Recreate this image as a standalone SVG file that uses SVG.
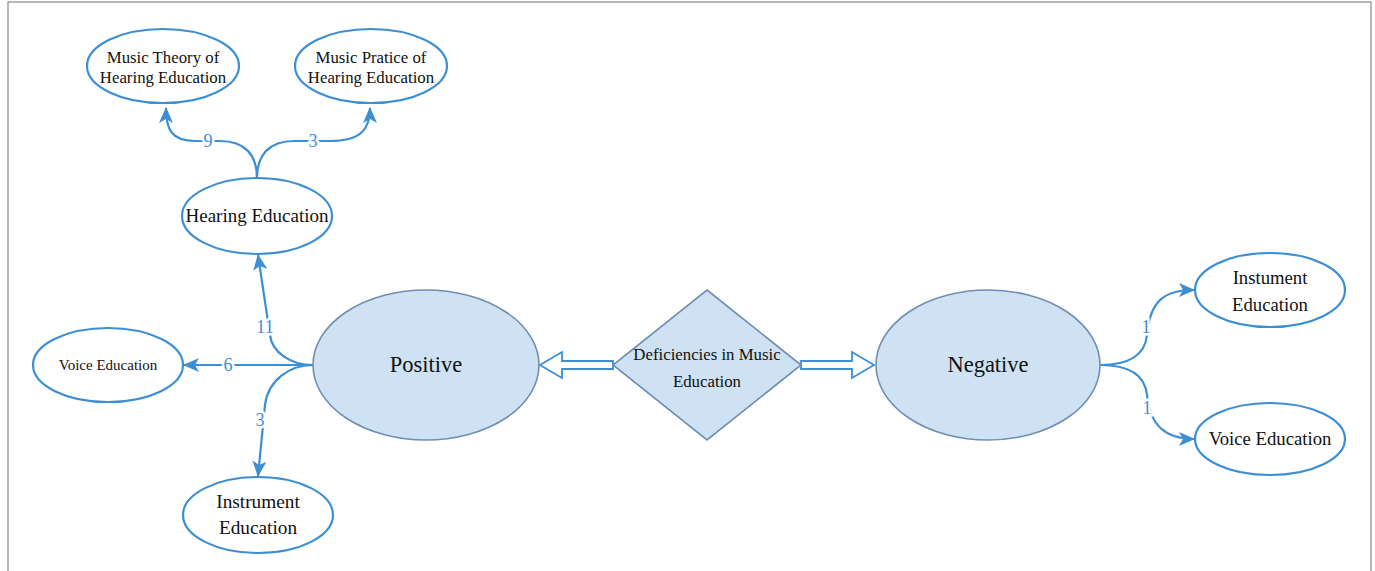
<svg xmlns="http://www.w3.org/2000/svg" width="1375" height="571" viewBox="0 0 1375 571">
<style>
.node{fill:#fff;stroke:#3d8fd4;stroke-width:2.2}
.main{fill:#cfe2f3;stroke:#6f8eb3;stroke-width:1.6}
.t{fill:#111;text-anchor:middle}
.edge{fill:none;stroke:#3d8fd4;stroke-width:2.2}
.lbl{font-size:18px;fill:#3d8fd4;text-anchor:middle;stroke:#fff;stroke-width:5;paint-order:stroke}
.hollow{fill:#fff;stroke:#3d8fd4;stroke-width:1.8;stroke-linejoin:miter}
</style>
<defs>
<marker id="ah" viewBox="0 0 16 14" refX="15" refY="7" markerWidth="16" markerHeight="14" markerUnits="userSpaceOnUse" orient="auto">
<path d="M0,0 L16,7 L0,14 L4,7 Z" fill="#3d8fd4"/>
</marker>
</defs>
<rect x="8" y="2" width="1363" height="580" fill="#fff" stroke="#888" stroke-width="1.2"/>
<g id="connectors" font-family="Liberation Serif, Times New Roman, serif">
<path class="edge" d="M257,178 C257,155 245,141 220,141 L195,141 C172,141 166,130 166,108" marker-end="url(#ah)"/>
<path class="edge" d="M257,178 C257,155 269,141 294,141 L330,141 C360,141 370,130 370,108" marker-end="url(#ah)"/>
<path class="edge" d="M313,365 C290,365 272,352 270,335 L258,255" marker-end="url(#ah)"/>
<path class="edge" d="M313,365 L184,365" marker-end="url(#ah)"/>
<path class="edge" d="M313,365 C290,365 268,380 265,405 L258,476" marker-end="url(#ah)"/>
<path class="edge" d="M1100,365 C1130,365 1145,355 1147,335 C1150,300 1165,290 1194,290" marker-end="url(#ah)"/>
<path class="edge" d="M1100,365 C1130,365 1145,375 1147,395 C1150,425 1165,439 1194,439" marker-end="url(#ah)"/>
<polygon class="hollow" points="613,361 562,361 562,352 540,365 562,378 562,369 613,369"/>
<polygon class="hollow" points="801,361 852,361 852,352 874,365 852,378 852,369 801,369"/>
<text class="lbl" x="208" y="147">9</text>
<text class="lbl" x="313" y="147">3</text>
<text class="lbl" x="265" y="333">11</text>
<text class="lbl" x="228" y="371">6</text>
<text class="lbl" x="260" y="426">3</text>
<text class="lbl" x="1146" y="333">1</text>
<text class="lbl" x="1147" y="414">1</text>
</g>
<g font-family="Liberation Serif, Times New Roman, serif">
<g id="theory"><ellipse class="node" cx="163" cy="66" rx="76" ry="37"/><text class="t" font-size="16.8" x="163" y="63">Music Theory of</text><text class="t" font-size="16.8" x="163" y="83">Hearing Education</text></g>
<g id="practice"><ellipse class="node" cx="371" cy="66" rx="76" ry="37"/><text class="t" font-size="16.8" x="371" y="63">Music Pratice of</text><text class="t" font-size="16.8" x="371" y="83">Hearing Education</text></g>
<g id="hearing"><ellipse class="node" cx="257" cy="216" rx="75" ry="38"/><text class="t" font-size="19" x="257" y="222">Hearing Education</text></g>
<g id="voice-left"><ellipse class="node" cx="108" cy="365" rx="75" ry="37"/><text class="t" font-size="15" x="108" y="370">Voice Education</text></g>
<g id="instrument-left"><ellipse class="node" cx="258" cy="515" rx="75" ry="38"/><text class="t" font-size="19.3" x="258" y="508">Instrument</text><text class="t" font-size="19.3" x="258" y="534">Education</text></g>
<g id="positive"><ellipse class="main" cx="426" cy="365" rx="113" ry="75"/><text class="t" font-size="22.5" x="426" y="372">Positive</text></g>
<g id="deficiencies"><polygon class="main" points="707,290 801,365 707,440 613,365"/><text class="t" font-size="16.8" x="707" y="360">Deficiencies in Music</text><text class="t" font-size="16.8" x="707" y="387">Education</text></g>
<g id="negative"><ellipse class="main" cx="988" cy="365" rx="112" ry="75"/><text class="t" font-size="22.5" x="988" y="372">Negative</text></g>
<g id="instrument-right"><ellipse class="node" cx="1270" cy="290" rx="75" ry="37"/><text class="t" font-size="18.7" x="1270" y="284">Instument</text><text class="t" font-size="18.7" x="1270" y="311">Education</text></g>
<g id="voice-right"><ellipse class="node" cx="1270" cy="439" rx="75" ry="36"/><text class="t" font-size="18.7" x="1270" y="445">Voice Education</text></g>
</g>
</svg>
